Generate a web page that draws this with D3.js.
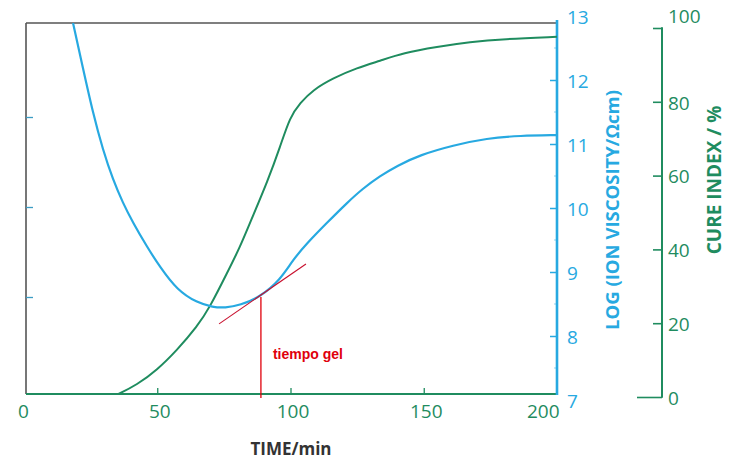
<!DOCTYPE html>
<html>
<head>
<meta charset="utf-8">
<script src="https://cdn.jsdelivr.net/npm/d3@7"></script>
<style>
  html, body { margin: 0; padding: 0; background: #fff; }
  svg { display: block; }
</style>
</head>
<body>
<svg id="chart" width="735" height="460"></svg>
<script>
// ---- data ----
const timeTicks = [0, 50, 100, 150, 200];
const viscTicks = [7, 8, 9, 10, 11, 12, 13];
const cureTicks = [0, 20, 40, 60, 80, 100];
const leftTicks = [1, 2, 3];

// ion viscosity curve: time (min) and log(ion viscosity)
const viscTime = [18.4, 22.1, 25.9, 29.6, 33.4, 37.1, 40.9, 46.2, 51.0, 57.4, 64.9, 70.9, 75.4, 81.1, 88.6, 96.1, 100.9, 106.2, 113.7, 121.2, 127.0, 133.6, 140.0, 148.6, 161.0, 173.7, 186.1, 200];
const viscValue = [12.89, 12.19, 11.48, 10.91, 10.44, 10.08, 9.77, 9.39, 9.08, 8.72, 8.52, 8.45, 8.44, 8.48, 8.61, 8.875, 9.19, 9.45, 9.77, 10.08, 10.30, 10.50, 10.66, 10.83, 10.98, 11.09, 11.13, 11.14];

// cure index curve: time (min) and cure index (%)
const cureTime = [33.0, 34.9, 42.4, 49.9, 57.4, 64.9, 69.8, 76.2, 81.1, 84.8, 91.6, 96.1, 99.8, 103.6, 108.4, 115.9, 125.0, 133.6, 142.2, 155.0, 167.4, 179.7, 200];
const cureValue = [0, 0.6, 3.3, 7.3, 12.7, 19.0, 24.4, 33.6, 40.7, 47.2, 58.8, 67.8, 75.9, 79.7, 83.2, 86.4, 89.2, 91.1, 93.2, 94.9, 96.2, 97.0, 97.6];

// gel time annotation
const gelTime = 88.9;
const gelVisc = 8.61;
const tangentTime = [73.2, 105.8];
const tangentVisc = [8.19, 9.125];
const gelLabel = "tiempo gel";

const xTitle = "TIME/min";
const viscTitle = "LOG (ION VISCOSITY/Ωcm)";
const cureTitle = "CURE INDEX / %";

// ---- styles ----
const BLUE = "#27a9e1";
const GREEN = "#1f8c5f";
const FRAME = "#555555";
const RED = "#e0000c";
const FONT = "'Open Sans', 'Noto Sans', sans-serif";

const svg = d3.select("#chart");

const x = d3.scaleLinear().domain([0, 200]).range([24, 557]);
const yV = d3.scaleLinear().domain([7, 13]).range([400, 16]);
const yC = d3.scaleLinear().domain([0, 100]).range([397, 28]);
const yL = d3.scaleLinear().domain([0, 4]).range([387, 27]);

const plotTop = 23, plotBottom = 394, plotLeft = 26, plotRight = 557;

// clip for curves
svg.append("defs").append("clipPath").attr("id", "plotclip")
  .append("rect").attr("x", plotLeft).attr("y", plotTop)
  .attr("width", plotRight - plotLeft).attr("height", plotBottom - plotTop);

// frame: top and left
svg.append("line").attr("x1", plotLeft).attr("x2", plotRight).attr("y1", plotTop).attr("y2", plotTop)
  .attr("stroke", FRAME).attr("stroke-width", 1.6);
svg.append("line").attr("x1", plotLeft).attr("x2", plotLeft).attr("y1", plotTop).attr("y2", plotBottom)
  .attr("stroke", FRAME).attr("stroke-width", 1.6);

// left unlabeled axis ticks
const leftAxis = svg.append("g").attr("transform", `translate(${plotLeft},0)`)
  .call(d3.axisRight(yL).tickValues(leftTicks).tickSize(7).tickFormat(""));
leftAxis.select(".domain").remove();
leftAxis.selectAll(".tick line").attr("stroke", "#3b9cc4").attr("stroke-width", 1.3);

// x axis (green)
const xAxis = svg.append("g").attr("transform", `translate(0,${plotBottom})`)
  .call(d3.axisBottom(x).tickValues(timeTicks).tickFormat(d3.format("d"))
    .tickSizeInner(-6).tickSizeOuter(0).tickPadding(11));
xAxis.select(".domain").remove();
xAxis.selectAll(".tick line").attr("stroke", GREEN).attr("stroke-width", 1.3)
  .attr("display", d => (d === 0 || d === 200) ? "none" : null);
xAxis.selectAll(".tick text").attr("fill", GREEN).attr("font-family", FONT).attr("font-size", 19)
  .attr("text-anchor", d => d === 200 ? "end" : "middle")
  .attr("x", d => d === 200 ? 2 : (d === 0 ? -1 : 2));
svg.append("line").attr("x1", plotLeft).attr("x2", plotRight).attr("y1", plotBottom).attr("y2", plotBottom)
  .attr("stroke", GREEN).attr("stroke-width", 2);

// blue (viscosity) axis
const vAxis = svg.append("g").attr("transform", `translate(${plotRight},0)`)
  .call(d3.axisRight(yV).tickValues(viscTicks).tickFormat(d3.format("d"))
    .tickSizeInner(-7).tickSizeOuter(0).tickPadding(10));
vAxis.select(".domain").remove();
vAxis.selectAll(".tick line").attr("stroke", BLUE).attr("stroke-width", 1.5)
  .attr("display", d => (d === 7 || d === 13) ? "none" : null);
vAxis.selectAll(".tick text").attr("fill", BLUE).attr("font-family", FONT).attr("font-size", 19)
  .attr("dy", "0.42em");
// minor ticks
const minorV = d3.range(7.5, 13, 1);
svg.append("g").selectAll("line").data(minorV).join("line")
  .attr("x1", plotRight - 3).attr("x2", plotRight)
  .attr("y1", d => yV(d)).attr("y2", d => yV(d))
  .attr("stroke", BLUE).attr("stroke-width", 1).attr("opacity", 0.5);
svg.append("line").attr("x1", plotRight).attr("x2", plotRight).attr("y1", 20).attr("y2", plotBottom + 1)
  .attr("stroke", BLUE).attr("stroke-width", 2.6);

// green (cure) axis
const gx = 662;
const cAxis = svg.append("g").attr("transform", `translate(${gx},0)`)
  .call(d3.axisRight(yC).tickValues(cureTicks).tickFormat(d3.format("d"))
    .tickSizeInner(-9).tickSizeOuter(0).tickPadding(6));
cAxis.select(".domain").remove();
cAxis.selectAll(".tick line").attr("stroke", GREEN).attr("stroke-width", 1.6)
  .attr("x2", d => d === 0 ? -25 : -9);
cAxis.selectAll(".tick text").attr("fill", GREEN).attr("font-family", FONT).attr("font-size", 19)
  .attr("dy", d => d === 100 ? "-0.28em" : "0.38em");
svg.append("line").attr("x1", gx).attr("x2", gx).attr("y1", yC(100) - 0.8).attr("y2", yC(0) + 0.8)
  .attr("stroke", GREEN).attr("stroke-width", 2);

// curves
const lineV = d3.line().x((d, i) => x(viscTime[i])).y(d => yV(d)).curve(d3.curveBasis);
const lineC = d3.line().x((d, i) => x(cureTime[i])).y(d => yC(d)).curve(d3.curveBasis);

const curves = svg.append("g").attr("clip-path", "url(#plotclip)");
curves.append("path").datum(cureValue).attr("d", lineC)
  .attr("fill", "none").attr("stroke", GREEN).attr("stroke-width", 2);
curves.append("path").datum(viscValue).attr("d", lineV)
  .attr("fill", "none").attr("stroke", BLUE).attr("stroke-width", 2.2);

// gel time annotation
svg.append("line")
  .attr("x1", x(tangentTime[0])).attr("y1", yV(tangentVisc[0]))
  .attr("x2", x(tangentTime[1])).attr("y2", yV(tangentVisc[1]))
  .attr("stroke", "#c8102e").attr("stroke-width", 1.1);
svg.append("line")
  .attr("x1", x(gelTime)).attr("x2", x(gelTime))
  .attr("y1", yV(gelVisc)).attr("y2", plotBottom + 4)
  .attr("stroke", RED).attr("stroke-width", 1.3);
svg.append("text").attr("x", x(gelTime) + 12).attr("y", 359)
  .attr("fill", RED).attr("font-family", "'Liberation Sans', Arial, sans-serif")
  .attr("font-weight", "bold").attr("font-size", 14).text(gelLabel);

// titles
svg.append("text").attr("x", 291).attr("y", 455)
  .attr("text-anchor", "middle").attr("fill", "#333").attr("font-family", FONT)
  .attr("font-weight", "bold").attr("font-size", 17).text(xTitle);
svg.append("text").attr("transform", "translate(619,210) rotate(-90)")
  .attr("text-anchor", "middle").attr("fill", BLUE).attr("font-family", FONT)
  .attr("font-weight", "bold").attr("font-size", 18.5).text(viscTitle);
svg.append("text").attr("transform", "translate(721,180) rotate(-90)")
  .attr("text-anchor", "middle").attr("fill", GREEN).attr("font-family", FONT)
  .attr("font-weight", "bold").attr("font-size", 19).text(cureTitle);
</script>
</body>
</html>
